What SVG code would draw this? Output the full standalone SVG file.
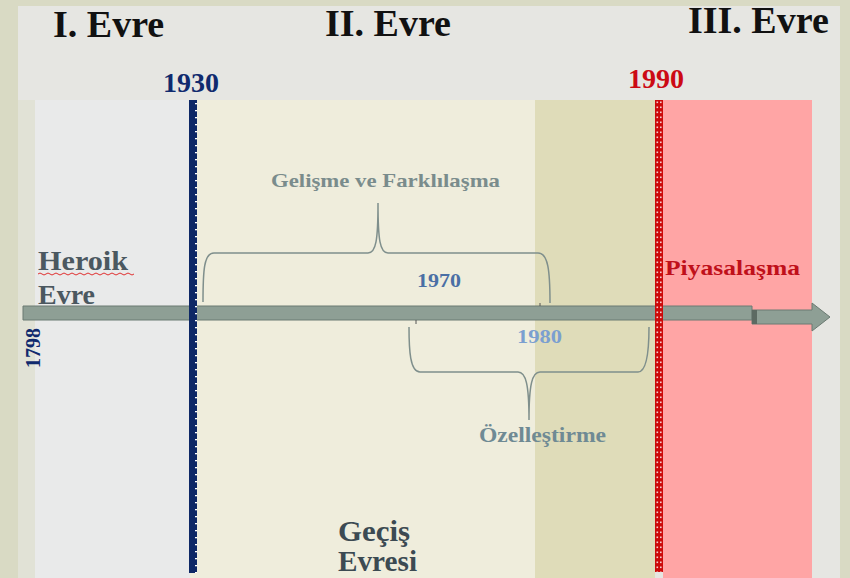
<svg xmlns="http://www.w3.org/2000/svg" width="850" height="578" viewBox="0 0 850 578">
<defs>
<style>
.t{font-family:"Liberation Serif","DejaVu Serif",serif;font-weight:bold}
.brace{fill:none;stroke:#7f8f8c;stroke-width:1.5}
</style>
<pattern id="navyDash" x="189" y="100" width="9" height="7" patternUnits="userSpaceOnUse">
<rect width="9" height="7" fill="#0e2866"/>
<rect x="6" y="3" width="2" height="1.3" fill="#ffffff"/>
</pattern>
<pattern id="redDots" x="655" y="100" width="8" height="5" patternUnits="userSpaceOnUse">
<rect width="8" height="5" fill="#cc0a0a"/>
<rect x="1.5" y="1.5" width="1.6" height="1.6" fill="#f3d0d0"/>
<rect x="5" y="1.5" width="1.6" height="1.6" fill="#f3d0d0"/>
</pattern>
</defs>

<g id="background">
<rect x="0" y="0" width="850" height="578" fill="#d9dac4"/>
<rect x="18" y="6" width="822" height="572" fill="#e6e6e2"/>
<rect x="18" y="100" width="17" height="478" fill="#e1e2d6"/>
<rect x="35" y="100" width="155" height="478" fill="#e9eaea"/>
<rect x="190" y="100" width="345" height="478" fill="#efeddc"/>
<rect x="535" y="100" width="120" height="478" fill="#dfdcb9"/>
<rect x="663" y="100" width="149" height="478" fill="#ffa5a5"/>
</g>

<g id="titles">
<text class="t" x="53" y="37" font-size="38" fill="#111">I. Evre</text>
<text class="t" x="325" y="36" font-size="38" fill="#111">II. Evre</text>
<text class="t" x="688" y="33" font-size="38" fill="#111">III. Evre</text>
</g>

<g id="connectors">
<path class="brace" d="M203,302 C203,270 204,253 214,253 L368,253 C376,253 378,240 378,203 C378,240 380,253 388,253 L538,253 C548,253 550,270 550,303"/>
<path class="brace" d="M409,327 C409,350 410,372 420,372 L518,372 C526,372 529,385 529,420 C529,385 532,372 540,372 L638,372 C647,372 649,350 649,327"/>
<path d="M23,306 L752,306 L752,320 L23,320 Z" fill="#8e9f95" stroke="#6b7a72" stroke-width="1"/>
<path d="M752,310 L812,310 L812,303 L830,317 L812,331 L812,324 L752,324 Z" fill="#8e9f95" stroke="#6b7a72" stroke-width="1"/>
<rect x="752" y="310" width="5" height="14" fill="#5c6a62"/>
<line x1="416" y1="320" x2="416" y2="324" stroke="#555" stroke-width="1"/>
<line x1="540" y1="303" x2="540" y2="306" stroke="#555" stroke-width="1"/>
</g>

<g id="line1930">
<rect x="189" y="100" width="8" height="473" fill="url(#navyDash)"/>
<text class="t" x="191" y="92" font-size="28" fill="#102a6e" text-anchor="middle">1930</text>
</g>

<g id="line1990">
<rect x="655" y="100" width="8" height="472" fill="url(#redDots)"/>
<text class="t" x="656" y="88" font-size="28" fill="#cc0a14" text-anchor="middle">1990</text>
</g>

<g id="heroik">
<text class="t" x="38" y="270" font-size="28" fill="#4b5860" textLength="90" lengthAdjust="spacingAndGlyphs">Heroik</text>
<text class="t" x="38" y="304" font-size="28" fill="#4b5860">Evre</text>
<path d="M38,274 q2,-2 4,0 t4,0 t4,0 t4,0 t4,0 t4,0 t4,0 t4,0 t4,0 t4,0 t4,0 t4,0 t4,0 t4,0 t4,0 t4,0 t4,0 t4,0 t4,0 t4,0 t4,0 t4,0 t4,0 t4,0" fill="none" stroke="#e03030" stroke-width="1"/>
</g>

<g id="y1798">
<text class="t" transform="translate(40,348) rotate(-90)" font-size="20" fill="#102a6e" text-anchor="middle">1798</text>
</g>

<g id="gelisme">
<text class="t" x="271" y="187" font-size="19" fill="#7a8c8c" textLength="229" lengthAdjust="spacingAndGlyphs">Gelişme ve Farklılaşma</text>
</g>

<g id="y1970">
<text class="t" x="417" y="287" font-size="19" fill="#4a6fa5" textLength="44" lengthAdjust="spacingAndGlyphs">1970</text>
</g>

<g id="y1980">
<text class="t" x="517" y="343" font-size="19" fill="#7b9fd0" textLength="45" lengthAdjust="spacingAndGlyphs">1980</text>
</g>

<g id="ozellestirme">
<text class="t" x="479" y="442" font-size="21" fill="#6f8a94" textLength="127" lengthAdjust="spacingAndGlyphs">Özelleştirme</text>
</g>

<g id="piyasalasma">
<text class="t" x="665" y="275" font-size="22" fill="#c0101a" textLength="135" lengthAdjust="spacingAndGlyphs">Piyasalaşma</text>
</g>

<g id="gecis">
<text class="t" x="338" y="541" font-size="29" fill="#3c4a52" textLength="72" lengthAdjust="spacingAndGlyphs">Geçiş</text>
<text class="t" x="338" y="571" font-size="29" fill="#3c4a52" textLength="79" lengthAdjust="spacingAndGlyphs">Evresi</text>
</g>
</svg>
